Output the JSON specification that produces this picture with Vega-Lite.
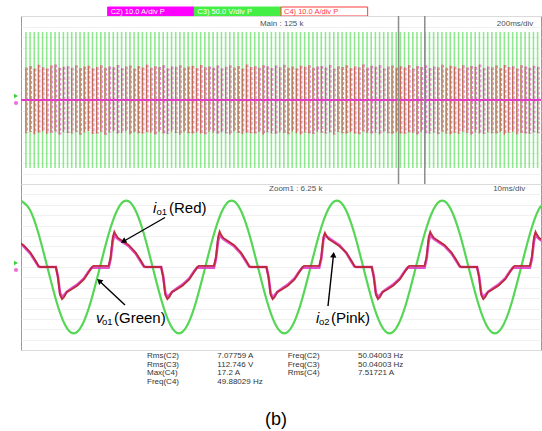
{
  "$schema": "https://vega.github.io/schema/vega-lite/v6.json",
  "background": "white",
  "padding": {"left": 13, "top": 6, "right": 2, "bottom": 0},
  "bounds": "flush",
  "spacing": 0,
  "config": {
    "view": {"stroke": "#9a9a9a", "strokeWidth": 1},
    "font": "Liberation Sans",
    "concat": {"spacing": 0}
  },
  "datasets": {
    "hdr": [
      {"ch": "C2", "txt": "C2) 10.0 A/div P"},
      {"ch": "C3", "txt": "C3) 50.0 V/div P"},
      {"ch": "C4", "txt": "C4) 10.0 A/div P"}
    ],
    "stripes": [
      {"t":19,"rt":15.5,"rb":-15.8},{"t":35,"rt":16.2,"rb":-15.2},{"t":51,"rt":15.0,"rb":-16.3},{"t":67,"rt":16.8,"rb":-15.5},
      {"t":83,"rt":15.6,"rb":-14.9},{"t":99,"rt":15.0,"rb":-16.1},{"t":115,"rt":16.4,"rb":-15.6},{"t":131,"rt":16.9,"rb":-15.0},
      {"t":147,"rt":15.3,"rb":-16.4},{"t":163,"rt":15.8,"rb":-15.3},{"t":179,"rt":16.1,"rb":-15.7},{"t":195,"rt":15.4,"rb":-16.0},
      {"t":211,"rt":16.6,"rb":-15.2},{"t":227,"rt":15.2,"rb":-16.5},{"t":243,"rt":15.9,"rb":-15.4},{"t":259,"rt":16.3,"rb":-14.8},
      {"t":275,"rt":15.1,"rb":-16.2},{"t":291,"rt":15.7,"rb":-15.9},{"t":307,"rt":16.5,"rb":-15.1},{"t":323,"rt":15.3,"rb":-16.6},
      {"t":339,"rt":16.0,"rb":-15.5},{"t":355,"rt":15.6,"rb":-15.0},{"t":371,"rt":16.7,"rb":-16.1},{"t":387,"rt":15.2,"rb":-15.7},
      {"t":403,"rt":15.9,"rb":-14.9},{"t":419,"rt":16.4,"rb":-16.3},{"t":435,"rt":15.0,"rb":-15.4},{"t":451,"rt":16.2,"rb":-15.8},
      {"t":467,"rt":15.5,"rb":-16.0},{"t":483,"rt":16.8,"rb":-15.3},{"t":499,"rt":15.4,"rb":-15.6},{"t":515,"rt":16.1,"rb":-16.4},
      {"t":531,"rt":15.7,"rb":-15.1},{"t":547,"rt":16.5,"rb":-15.9},{"t":563,"rt":15.1,"rb":-16.2},{"t":579,"rt":16.0,"rb":-15.0},
      {"t":595,"rt":15.8,"rb":-15.7},{"t":611,"rt":16.6,"rb":-16.5},{"t":627,"rt":15.3,"rb":-15.2},{"t":643,"rt":15.9,"rb":-15.8},
      {"t":659,"rt":16.3,"rb":-16.0},{"t":675,"rt":15.2,"rb":-15.4},{"t":691,"rt":16.7,"rb":-15.9},{"t":707,"rt":15.6,"rb":-16.3},
      {"t":723,"rt":16.0,"rb":-15.1},{"t":739,"rt":15.4,"rb":-15.6},{"t":755,"rt":16.4,"rb":-16.1},{"t":771,"rt":15.1,"rb":-15.3},
      {"t":787,"rt":15.8,"rb":-15.9},{"t":803,"rt":16.6,"rb":-16.4},{"t":819,"rt":15.5,"rb":-15.0},{"t":835,"rt":16.2,"rb":-15.7},
      {"t":851,"rt":15.0,"rb":-16.2},{"t":867,"rt":16.9,"rb":-15.5},{"t":883,"rt":15.7,"rb":-15.8},{"t":899,"rt":16.1,"rb":-16.0},
      {"t":915,"rt":15.3,"rb":-15.2},{"t":931,"rt":16.5,"rb":-16.6},{"t":947,"rt":15.9,"rb":-15.4},{"t":963,"rt":15.2,"rb":-15.9},
      {"t":979,"rt":16.4,"rb":-16.1},{"t":995,"rt":15.6,"rb":-15.3},{"t":1011,"rt":16.8,"rb":-15.7},{"t":1027,"rt":15.4,"rb":-16.3},
      {"t":1043,"rt":16.0,"rb":-15.0},{"t":1059,"rt":15.1,"rb":-15.8},{"t":1075,"rt":16.3,"rb":-16.4},{"t":1091,"rt":15.8,"rb":-15.5},
      {"t":1107,"rt":16.6,"rb":-15.9},{"t":1123,"rt":15.3,"rb":-16.2},{"t":1139,"rt":15.9,"rb":-15.1},{"t":1155,"rt":16.2,"rb":-15.6},
      {"t":1171,"rt":15.5,"rb":-16.0},{"t":1187,"rt":16.7,"rb":-15.4},{"t":1203,"rt":15.0,"rb":-16.5},{"t":1219,"rt":16.1,"rb":-15.2},
      {"t":1235,"rt":15.7,"rb":-15.8},{"t":1251,"rt":16.5,"rb":-16.1},{"t":1267,"rt":15.2,"rb":-15.3},{"t":1283,"rt":16.0,"rb":-15.9},
      {"t":1299,"rt":15.6,"rb":-16.3},{"t":1315,"rt":16.9,"rb":-15.0},{"t":1331,"rt":15.4,"rb":-15.7},{"t":1347,"rt":16.3,"rb":-16.0},
      {"t":1363,"rt":15.8,"rb":-15.5},{"t":1379,"rt":16.6,"rb":-16.4},{"t":1395,"rt":15.1,"rb":-15.1},{"t":1411,"rt":15.9,"rb":-15.8},
      {"t":1427,"rt":16.4,"rb":-16.2},{"t":1443,"rt":15.3,"rb":-15.4},{"t":1459,"rt":16.1,"rb":-15.9},{"t":1475,"rt":15.5,"rb":-16.1},
      {"t":1491,"rt":16.7,"rb":-15.3},{"t":1507,"rt":15.0,"rb":-15.7},{"t":1523,"rt":16.2,"rb":-16.5},{"t":1539,"rt":15.7,"rb":-15.2},
      {"t":1555,"rt":16.5,"rb":-15.8},{"t":1571,"rt":15.2,"rb":-16.0},{"t":1587,"rt":16.0,"rb":-15.5},{"t":1603,"rt":15.6,"rb":-16.3},
      {"t":1619,"rt":16.8,"rb":-15.1},{"t":1635,"rt":15.4,"rb":-15.9},{"t":1651,"rt":16.3,"rb":-16.4},{"t":1667,"rt":15.9,"rb":-15.6},
      {"t":1683,"rt":15.1,"rb":-16.1},{"t":1699,"rt":16.6,"rb":-15.0},{"t":1715,"rt":15.5,"rb":-15.7},{"t":1731,"rt":16.2,"rb":-16.6},
      {"t":1747,"rt":15.8,"rb":-15.4},{"t":1763,"rt":16.9,"rb":-15.9},{"t":1779,"rt":15.3,"rb":-16.2},{"t":1795,"rt":16.0,"rb":-15.3},
      {"t":1811,"rt":15.6,"rb":-15.8},{"t":1827,"rt":16.4,"rb":-16.0},{"t":1843,"rt":15.2,"rb":-15.2},{"t":1859,"rt":16.7,"rb":-16.5},
      {"t":1875,"rt":15.7,"rb":-15.6},{"t":1891,"rt":16.1,"rb":-15.1},{"t":1907,"rt":15.0,"rb":-16.3},{"t":1923,"rt":16.5,"rb":-15.7},
      {"t":1939,"rt":15.9,"rb":-15.9},{"t":1955,"rt":15.4,"rb":-16.1},{"t":1971,"rt":16.3,"rb":-15.4},{"t":1987,"rt":15.8,"rb":-15.8}
    ],
    "zoomwin": [{"z": 1452}, {"z": 1553}],
    "toplab": [
      {"t": 919, "v": 181, "txt": "Main : 125 k"},
      {"t": 1830, "v": 181, "txt": "200ms/div"}
    ],
    "volt": [
      {"t":0,"v":160},{"t":1.6875,"v":138.6},{"t":3.375,"v":80},{"t":5.0625,"v":0},{"t":6.75,"v":-80},{"t":8.4375,"v":-138.6},
      {"t":10.125,"v":-160},{"t":11.8125,"v":-138.6},{"t":13.5,"v":-80},{"t":15.1875,"v":0},{"t":16.875,"v":80},{"t":18.5625,"v":138.6},
      {"t":20.25,"v":160},{"t":21.9375,"v":138.6},{"t":23.625,"v":80},{"t":25.3125,"v":0},{"t":27.0,"v":-80},{"t":28.6875,"v":-138.6},
      {"t":30.375,"v":-160},{"t":32.0625,"v":-138.6},{"t":33.75,"v":-80},{"t":35.4375,"v":0},{"t":37.125,"v":80},{"t":38.8125,"v":138.6},
      {"t":40.5,"v":160},{"t":42.1875,"v":138.6},{"t":43.875,"v":80},{"t":45.5625,"v":0},{"t":47.25,"v":-80},{"t":48.9375,"v":-138.6},
      {"t":50.625,"v":-160},{"t":52.3125,"v":-138.6},{"t":54.0,"v":-80},{"t":55.6875,"v":0},{"t":57.375,"v":80},{"t":59.0625,"v":138.6},
      {"t":60.75,"v":160},{"t":62.4375,"v":138.6},{"t":64.125,"v":80},{"t":65.8125,"v":0},{"t":67.5,"v":-80},{"t":69.1875,"v":-138.6},
      {"t":70.875,"v":-160},{"t":72.5625,"v":-138.6},{"t":74.25,"v":-80},{"t":75.9375,"v":0},{"t":77.625,"v":80},{"t":79.3125,"v":138.6},
      {"t":81.0,"v":160},{"t":82.6875,"v":138.6},{"t":84.375,"v":80},{"t":86.0625,"v":0},{"t":87.75,"v":-80},{"t":89.4375,"v":-138.6},
      {"t":91.125,"v":-160},{"t":92.8125,"v":-138.6},{"t":94.5,"v":-80},{"t":96.1875,"v":0},{"t":97.875,"v":80},{"t":99.5625,"v":138.6},
      {"t":101.25,"v":160}
    ],
    "cur": [
      {"t":0,"r":11.3,"p":10.8},{"t":0.5,"r":10.5,"p":10},{"t":1.8,"r":7,"p":6.5},{"t":2.8,"r":3,"p":2.5},{"t":3.4,"r":0.3,"p":0.2},{"t":3.7,"r":0,"p":0},
      {"t":6.7,"r":0,"p":0},{"t":7.1,"r":-5,"p":-4.5},{"t":7.5,"r":-13.5,"p":-12.5},{"t":7.9,"r":-15.5,"p":-14.5},{"t":8.3,"r":-14.5,"p":-13.5},{"t":8.8,"r":-12,"p":-12},
      {"t":9.6,"r":-11,"p":-10.5},{"t":10.8,"r":-9,"p":-8.5},{"t":12.1,"r":-6,"p":-5.5},{"t":13.0,"r":-2.5,"p":-2.2},{"t":13.6,"r":-0.3,"p":-0.3},{"t":13.9,"r":0.5,"p":-0.3},

      {"t":16.85,"r":0.5,"p":-0.3},{"t":17.25,"r":5,"p":4},{"t":17.65,"r":14.5,"p":12.5},{"t":17.95,"r":17,"p":15.5},{"t":18.25,"r":15.5,"p":14.5},{"t":18.65,"r":14,"p":13.5},
      {"t":19.55,"r":12.5,"p":12},{"t":20.75,"r":10.5,"p":10},{"t":22.05,"r":7,"p":6.5},{"t":23.05,"r":3,"p":2.5},{"t":23.65,"r":0.3,"p":0.2},{"t":23.95,"r":0,"p":0},
      {"t":26.95,"r":0,"p":0},{"t":27.35,"r":-5,"p":-4.5},{"t":27.75,"r":-13.5,"p":-12.5},{"t":28.15,"r":-15.5,"p":-14.5},{"t":28.55,"r":-14.5,"p":-13.5},{"t":29.05,"r":-12,"p":-12},
      {"t":29.85,"r":-11,"p":-10.5},{"t":31.05,"r":-9,"p":-8.5},{"t":32.35,"r":-6,"p":-5.5},{"t":33.25,"r":-2.5,"p":-2.2},{"t":33.85,"r":-0.3,"p":-0.3},{"t":34.15,"r":0.5,"p":-0.3},

      {"t":37.1,"r":0.5,"p":-0.3},{"t":37.5,"r":5,"p":4},{"t":37.9,"r":14.5,"p":12.5},{"t":38.2,"r":17.2,"p":15.5},{"t":38.5,"r":15.5,"p":14.5},{"t":38.9,"r":14,"p":13.5},
      {"t":39.8,"r":12.5,"p":12},{"t":41.0,"r":10.5,"p":10},{"t":42.3,"r":7,"p":6.5},{"t":43.3,"r":3,"p":2.5},{"t":43.9,"r":0.3,"p":0.2},{"t":44.2,"r":0,"p":0},
      {"t":47.2,"r":0,"p":0},{"t":47.6,"r":-5,"p":-4.5},{"t":48.0,"r":-13.5,"p":-12.5},{"t":48.4,"r":-15.5,"p":-14.8},{"t":48.8,"r":-14.5,"p":-13.5},{"t":49.3,"r":-12,"p":-12},
      {"t":50.1,"r":-11,"p":-10.5},{"t":51.3,"r":-9,"p":-8.5},{"t":52.6,"r":-6,"p":-5.5},{"t":53.5,"r":-2.5,"p":-2.2},{"t":54.1,"r":-0.3,"p":-0.3},{"t":54.4,"r":0.5,"p":-0.3},

      {"t":57.35,"r":0.5,"p":-0.3},{"t":57.75,"r":5,"p":4},{"t":58.15,"r":14.5,"p":13},{"t":58.45,"r":16.5,"p":15.5},{"t":58.75,"r":15,"p":14.8},{"t":59.15,"r":13.5,"p":14},
      {"t":60.05,"r":12,"p":12.5},{"t":61.25,"r":10,"p":10.5},{"t":62.55,"r":7,"p":6.8},{"t":63.55,"r":3,"p":2.5},{"t":64.15,"r":0.3,"p":0.2},{"t":64.45,"r":0,"p":0},
      {"t":67.45,"r":0,"p":0},{"t":67.85,"r":-5,"p":-4.5},{"t":68.25,"r":-13.5,"p":-12.5},{"t":68.65,"r":-15.5,"p":-14.5},{"t":69.05,"r":-14.5,"p":-13.5},{"t":69.55,"r":-12,"p":-12},
      {"t":70.35,"r":-11,"p":-10.5},{"t":71.55,"r":-9,"p":-8.5},{"t":72.85,"r":-6,"p":-5.5},{"t":73.75,"r":-2.5,"p":-2.2},{"t":74.35,"r":-0.3,"p":-0.3},{"t":74.65,"r":0.5,"p":-0.3},

      {"t":77.6,"r":0.5,"p":-0.3},{"t":78.0,"r":5,"p":4},{"t":78.4,"r":14.5,"p":12.5},{"t":78.7,"r":17,"p":15.5},{"t":79.0,"r":15.5,"p":14.5},{"t":79.4,"r":14,"p":13.5},
      {"t":80.3,"r":12.5,"p":12},{"t":81.5,"r":10.5,"p":10},{"t":82.8,"r":7,"p":6.5},{"t":83.8,"r":3,"p":2.5},{"t":84.4,"r":0.3,"p":0.2},{"t":84.7,"r":0,"p":0},
      {"t":87.7,"r":0,"p":0},{"t":88.1,"r":-5,"p":-4.5},{"t":88.5,"r":-13.5,"p":-12.5},{"t":88.9,"r":-15.5,"p":-14.5},{"t":89.3,"r":-14.5,"p":-13.5},{"t":89.8,"r":-12,"p":-12},
      {"t":90.6,"r":-11,"p":-10.5},{"t":91.8,"r":-9,"p":-8.5},{"t":93.1,"r":-6,"p":-5.5},{"t":94.0,"r":-2.5,"p":-2.2},{"t":94.6,"r":-0.3,"p":-0.3},{"t":94.9,"r":0.5,"p":-0.3},

      {"t":97.85,"r":0.5,"p":-0.3},{"t":98.25,"r":5,"p":4},{"t":98.65,"r":14.5,"p":12.5},{"t":98.95,"r":17,"p":15.5},{"t":99.25,"r":15.5,"p":14.5},{"t":99.65,"r":14,"p":13.5},
      {"t":100.55,"r":12.5,"p":12}
    ],
    "botlab": [
      {"t": 47.7, "a": 37.6, "txt": "Zoom1 : 6.25 k"},
      {"t": 90.8, "a": 37.6, "txt": "10ms/div"}
    ],
    "arrows": [
      {"name": "io1", "t1": 27.69, "a1": 23.86, "t2": 19.83, "a2": 12.53},
      {"name": "vo1", "t1": 20.0, "a1": -18.31, "t2": 15.17, "a2": -6.94},
      {"name": "io2", "t1": 59.04, "a1": -18.8, "t2": 60.08, "a2": 5.45}
    ],
    "ann": [
      {"t": 25.4, "ts": 26.06, "tr": 28.46, "a": 28.4, "main": "i", "sub": "o1", "rest": "(Red)"},
      {"t": 14.42, "ts": 15.58, "tr": 17.88, "a": -24.4, "main": "v", "sub": "o1", "rest": "(Green)"},
      {"t": 56.73, "ts": 57.31, "tr": 59.6, "a": -24.4, "main": "i", "sub": "o2", "rest": "(Pink)"}
    ],
    "meas": [
      {"col": 0, "row": 0, "txt": "Rms(C2)"}, {"col": 1, "row": 0, "txt": "7.07759 A"}, {"col": 2, "row": 0, "txt": "Freq(C2)"}, {"col": 3, "row": 0, "txt": "50.04003 Hz"},
      {"col": 0, "row": 1, "txt": "Rms(C3)"}, {"col": 1, "row": 1, "txt": "112.746 V"}, {"col": 2, "row": 1, "txt": "Freq(C3)"}, {"col": 3, "row": 1, "txt": "50.04003 Hz"},
      {"col": 0, "row": 2, "txt": "Max(C4)"}, {"col": 1, "row": 2, "txt": "17.2 A"}, {"col": 2, "row": 2, "txt": "Rms(C4)"}, {"col": 3, "row": 2, "txt": "7.51721 A"},
      {"col": 0, "row": 3, "txt": "Freq(C4)"}, {"col": 1, "row": 3, "txt": "49.88029 Hz"}
    ],
    "cap": [{"col": 1.834, "row": 7.53, "txt": "(b)"}]
  },
  "vconcat": [
    {
      "width": 520,
      "height": 9,
      "view": {"stroke": null},
      "data": {"name": "hdr"},
      "layer": [
        {
          "mark": {"type": "rect", "strokeWidth": 1},
          "encoding": {
            "x": {"field": "ch", "type": "nominal", "scale": {"type": "band", "domain": ["s0", "C2", "C3", "C4", "s4", "s5"], "paddingInner": 0, "paddingOuter": 0}, "axis": null},
            "fill": {"field": "ch", "type": "nominal", "scale": {"domain": ["C2", "C3", "C4"], "range": ["#ff00ff", "#44ee44", "#ffffff"]}, "legend": null},
            "stroke": {"field": "ch", "type": "nominal", "scale": {"domain": ["C2", "C3", "C4"], "range": ["#ff00ff", "#44ee44", "#ff3a3a"]}, "legend": null}
          }
        },
        {
          "mark": {"type": "text", "align": "left", "baseline": "middle", "fontSize": 7.5, "dx": 3},
          "encoding": {
            "x": {"field": "ch", "type": "nominal", "bandPosition": 0, "scale": {"type": "band", "domain": ["s0", "C2", "C3", "C4", "s4", "s5"], "paddingInner": 0, "paddingOuter": 0}, "axis": null},
            "text": {"field": "txt"},
            "fill": {"field": "ch", "type": "nominal", "scale": {"domain": ["C2", "C3", "C4"], "range": ["#ffffff", "#ffffff", "#ff3a3a"]}, "legend": null}
          }
        }
      ],
      "resolve": {"scale": {"fill": "independent"}}
    },
    {
      "width": 520,
      "height": 168,
      "layer": [
        {
          "data": {"name": "stripes"},
          "mark": {"type": "rule", "color": "#5fe05f", "strokeWidth": 1.6, "opacity": 0.7, "clip": true},
          "encoding": {
            "x": {"field": "t", "type": "quantitative", "scale": {"domain": [0, 2000], "nice": false, "zero": false},
                  "axis": {"grid": true, "gridColor": "#ececec", "gridWidth": 0.8, "labels": false, "ticks": false, "domain": false, "title": null,
                           "values": [0,40,80,120,160,200,240,280,320,360,400,440,480,520,560,600,640,680,720,760,800,840,880,920,960,1000,1040,1080,1120,1160,1200,1240,1280,1320,1360,1400,1440,1480,1520,1560,1600,1640,1680,1720,1760,1800,1840,1880,1920,1960,2000]}},
            "y": {"datum": 162, "type": "quantitative", "scale": {"domain": [-200, 200], "nice": false, "zero": false},
                  "axis": {"grid": true, "gridColor": "#ececec", "gridWidth": 0.8, "labels": false, "ticks": false, "domain": false, "title": null,
                           "values": [-200,-175,-150,-125,-100,-75,-50,-25,0,25,50,75,100,125,150,175,200]}},
            "y2": {"datum": -162}
          }
        },
        {
          "data": {"name": "stripes"},
          "mark": {"type": "rule", "color": "#d23a3a", "strokeWidth": 1.3, "opacity": 0.7, "clip": true},
          "encoding": {
            "x": {"field": "t", "type": "quantitative", "scale": {"domain": [0, 2000], "nice": false, "zero": false}, "axis": null},
            "y": {"field": "rt", "type": "quantitative", "scale": {"domain": [-40, 40], "nice": false, "zero": false}, "axis": null},
            "y2": {"field": "rb"}
          }
        },
        {
          "data": {"name": "stripes"},
          "mark": {"type": "rule", "color": "#e048c8", "strokeWidth": 1.2, "opacity": 0.65, "xOffset": 1.4, "strokeDash": [3, 2], "clip": true},
          "encoding": {
            "x": {"field": "t", "type": "quantitative", "scale": {"domain": [0, 2000], "nice": false, "zero": false}, "axis": null},
            "y": {"field": "rt", "type": "quantitative", "scale": {"domain": [-40, 40], "nice": false, "zero": false}, "axis": null},
            "y2": {"field": "rb"}
          }
        },
        {
          "data": {"values": [{}]},
          "mark": {"type": "rule", "color": "#e03cc8", "strokeWidth": 2},
          "encoding": {
            "y": {"datum": 0, "type": "quantitative", "scale": {"domain": [-40, 40], "nice": false, "zero": false}, "axis": null}
          }
        },
        {
          "data": {"name": "zoomwin"},
          "mark": {"type": "rule", "color": "#8c8c8c", "strokeWidth": 1.5},
          "encoding": {
            "x": {"field": "z", "type": "quantitative", "scale": {"domain": [0, 2000], "nice": false, "zero": false}, "axis": null}
          }
        },
        {
          "data": {"name": "toplab"},
          "mark": {"type": "text", "align": "left", "baseline": "middle", "fontSize": 8, "color": "#505050"},
          "encoding": {
            "x": {"field": "t", "type": "quantitative", "scale": {"domain": [0, 2000], "nice": false, "zero": false}, "axis": null},
            "y": {"field": "v", "type": "quantitative", "scale": {"domain": [-200, 200], "nice": false, "zero": false}, "axis": null},
            "text": {"field": "txt"}
          }
        },
        {
          "data": {"values": [{}]},
          "mark": {"type": "point", "shape": "triangle-right", "filled": true, "color": "#3ccf3c", "size": 22, "xOffset": -5, "yOffset": -4, "opacity": 1},
          "encoding": {
            "x": {"datum": 0, "type": "quantitative", "scale": {"domain": [0, 2000], "nice": false, "zero": false}, "axis": null},
            "y": {"datum": 0, "type": "quantitative", "scale": {"domain": [-40, 40], "nice": false, "zero": false}, "axis": null}
          }
        },
        {
          "data": {"values": [{}]},
          "mark": {"type": "point", "shape": "circle", "filled": true, "color": "#ee70dd", "size": 18, "xOffset": -5, "yOffset": 3, "opacity": 1},
          "encoding": {
            "x": {"datum": 0, "type": "quantitative", "scale": {"domain": [0, 2000], "nice": false, "zero": false}, "axis": null},
            "y": {"datum": 0, "type": "quantitative", "scale": {"domain": [-40, 40], "nice": false, "zero": false}, "axis": null}
          }
        }
      ],
      "resolve": {"scale": {"y": "independent"}}
    },
    {
      "width": 520,
      "height": 166,
      "layer": [
        {
          "data": {"name": "volt"},
          "mark": {"type": "line", "color": "#55d655", "strokeWidth": 2.2, "interpolate": "natural", "clip": true},
          "encoding": {
            "x": {"field": "t", "type": "quantitative", "scale": {"domain": [0, 100], "nice": false, "zero": false},
                  "axis": {"grid": true, "gridColor": "#ececec", "gridWidth": 0.8, "labels": false, "ticks": false, "domain": false, "title": null,
                           "values": [0,2,4,6,8,10,12,14,16,18,20,22,24,26,28,30,32,34,36,38,40,42,44,46,48,50,52,54,56,58,60,62,64,66,68,70,72,74,76,78,80,82,84,86,88,90,92,94,96,98,100]}},
            "y": {"field": "v", "type": "quantitative", "scale": {"domain": [-200, 200], "nice": false, "zero": false},
                  "axis": {"grid": true, "gridColor": "#ececec", "gridWidth": 0.8, "labels": false, "ticks": false, "domain": false, "title": null,
                           "values": [-200,-175,-150,-125,-100,-75,-50,-25,0,25,50,75,100,125,150,175,200]}}
          }
        },
        {
          "data": {"name": "cur"},
          "mark": {"type": "line", "color": "#e03cc8", "strokeWidth": 2.6, "opacity": 0.9, "clip": true},
          "encoding": {
            "x": {"field": "t", "type": "quantitative", "scale": {"domain": [0, 100], "nice": false, "zero": false}, "axis": null},
            "y": {"field": "p", "type": "quantitative", "scale": {"domain": [-40, 40], "nice": false, "zero": false}, "axis": null}
          }
        },
        {
          "data": {"name": "cur"},
          "mark": {"type": "line", "color": "#b8242c", "strokeWidth": 1.8, "opacity": 0.9, "clip": true},
          "encoding": {
            "x": {"field": "t", "type": "quantitative", "scale": {"domain": [0, 100], "nice": false, "zero": false}, "axis": null},
            "y": {"field": "r", "type": "quantitative", "scale": {"domain": [-40, 40], "nice": false, "zero": false}, "axis": null}
          }
        },
        {
          "data": {"name": "botlab"},
          "mark": {"type": "text", "align": "left", "baseline": "middle", "fontSize": 8, "color": "#505050"},
          "encoding": {
            "x": {"field": "t", "type": "quantitative", "scale": {"domain": [0, 100], "nice": false, "zero": false}, "axis": null},
            "y": {"field": "a", "type": "quantitative", "scale": {"domain": [-40, 40], "nice": false, "zero": false}, "axis": null},
            "text": {"field": "txt"}
          }
        },
        {
          "data": {"name": "arrows"},
          "mark": {"type": "rule", "color": "black", "strokeWidth": 1.4},
          "encoding": {
            "x": {"field": "t1", "type": "quantitative", "scale": {"domain": [0, 100], "nice": false, "zero": false}, "axis": null},
            "y": {"field": "a1", "type": "quantitative", "scale": {"domain": [-40, 40], "nice": false, "zero": false}, "axis": null},
            "x2": {"field": "t2"},
            "y2": {"field": "a2"}
          }
        },
        {
          "data": {"name": "arrows"},
          "transform": [{"filter": "datum.name === 'io1'"}],
          "mark": {"type": "point", "shape": "triangle", "filled": true, "color": "black", "size": 40, "angle": 240, "opacity": 1},
          "encoding": {
            "x": {"field": "t2", "type": "quantitative", "scale": {"domain": [0, 100], "nice": false, "zero": false}, "axis": null},
            "y": {"field": "a2", "type": "quantitative", "scale": {"domain": [-40, 40], "nice": false, "zero": false}, "axis": null}
          }
        },
        {
          "data": {"name": "arrows"},
          "transform": [{"filter": "datum.name === 'vo1'"}],
          "mark": {"type": "point", "shape": "triangle", "filled": true, "color": "black", "size": 40, "angle": 313, "opacity": 1},
          "encoding": {
            "x": {"field": "t2", "type": "quantitative", "scale": {"domain": [0, 100], "nice": false, "zero": false}, "axis": null},
            "y": {"field": "a2", "type": "quantitative", "scale": {"domain": [-40, 40], "nice": false, "zero": false}, "axis": null}
          }
        },
        {
          "data": {"name": "arrows"},
          "transform": [{"filter": "datum.name === 'io2'"}],
          "mark": {"type": "point", "shape": "triangle", "filled": true, "color": "black", "size": 40, "angle": 6, "opacity": 1},
          "encoding": {
            "x": {"field": "t2", "type": "quantitative", "scale": {"domain": [0, 100], "nice": false, "zero": false}, "axis": null},
            "y": {"field": "a2", "type": "quantitative", "scale": {"domain": [-40, 40], "nice": false, "zero": false}, "axis": null}
          }
        },
        {
          "data": {"name": "ann"},
          "mark": {"type": "text", "align": "left", "baseline": "middle", "fontSize": 15, "fontStyle": "italic", "color": "black", "font": "Liberation Sans"},
          "encoding": {
            "x": {"field": "t", "type": "quantitative", "scale": {"domain": [0, 100], "nice": false, "zero": false}, "axis": null},
            "y": {"field": "a", "type": "quantitative", "scale": {"domain": [-40, 40], "nice": false, "zero": false}, "axis": null},
            "text": {"field": "main"}
          }
        },
        {
          "data": {"name": "ann"},
          "mark": {"type": "text", "align": "left", "baseline": "middle", "fontSize": 9.5, "dy": 4, "color": "black", "font": "Liberation Sans"},
          "encoding": {
            "x": {"field": "ts", "type": "quantitative", "scale": {"domain": [0, 100], "nice": false, "zero": false}, "axis": null},
            "y": {"field": "a", "type": "quantitative", "scale": {"domain": [-40, 40], "nice": false, "zero": false}, "axis": null},
            "text": {"field": "sub"}
          }
        },
        {
          "data": {"name": "ann"},
          "mark": {"type": "text", "align": "left", "baseline": "middle", "fontSize": 15, "color": "black", "font": "Liberation Sans"},
          "encoding": {
            "x": {"field": "tr", "type": "quantitative", "scale": {"domain": [0, 100], "nice": false, "zero": false}, "axis": null},
            "y": {"field": "a", "type": "quantitative", "scale": {"domain": [-40, 40], "nice": false, "zero": false}, "axis": null},
            "text": {"field": "rest"}
          }
        },
        {
          "data": {"values": [{}]},
          "mark": {"type": "point", "shape": "triangle-right", "filled": true, "color": "#3ccf3c", "size": 22, "xOffset": -5, "yOffset": -4, "opacity": 1},
          "encoding": {
            "x": {"datum": 0, "type": "quantitative", "scale": {"domain": [0, 100], "nice": false, "zero": false}, "axis": null},
            "y": {"datum": 0, "type": "quantitative", "scale": {"domain": [-40, 40], "nice": false, "zero": false}, "axis": null}
          }
        },
        {
          "data": {"values": [{}]},
          "mark": {"type": "point", "shape": "circle", "filled": true, "color": "#ee70dd", "size": 18, "xOffset": -5, "yOffset": 3, "opacity": 1},
          "encoding": {
            "x": {"datum": 0, "type": "quantitative", "scale": {"domain": [0, 100], "nice": false, "zero": false}, "axis": null},
            "y": {"datum": 0, "type": "quantitative", "scale": {"domain": [-40, 40], "nice": false, "zero": false}, "axis": null}
          }
        }
      ],
      "resolve": {"scale": {"y": "independent"}}
    },
    {
      "width": 520,
      "height": 82,
      "view": {"stroke": null},
      "layer": [
        {
          "data": {"name": "meas"},
          "mark": {"type": "text", "align": "left", "baseline": "middle", "fontSize": 8, "color": "#333333"},
          "encoding": {
            "x": {"field": "col", "type": "quantitative", "scale": {"domain": [-1.7916, 5.602], "nice": false, "zero": false}, "axis": null},
            "y": {"field": "row", "type": "quantitative", "scale": {"domain": [-0.706, 8.94], "nice": false, "zero": false, "reverse": true}, "axis": null},
            "text": {"field": "txt"}
          }
        },
        {
          "data": {"name": "cap"},
          "mark": {"type": "text", "align": "center", "baseline": "middle", "fontSize": 18, "color": "black"},
          "encoding": {
            "x": {"field": "col", "type": "quantitative", "scale": {"domain": [-1.7916, 5.602], "nice": false, "zero": false}, "axis": null},
            "y": {"field": "row", "type": "quantitative", "scale": {"domain": [-0.706, 8.94], "nice": false, "zero": false, "reverse": true}, "axis": null},
            "text": {"field": "txt"}
          }
        }
      ]
    }
  ]
}
